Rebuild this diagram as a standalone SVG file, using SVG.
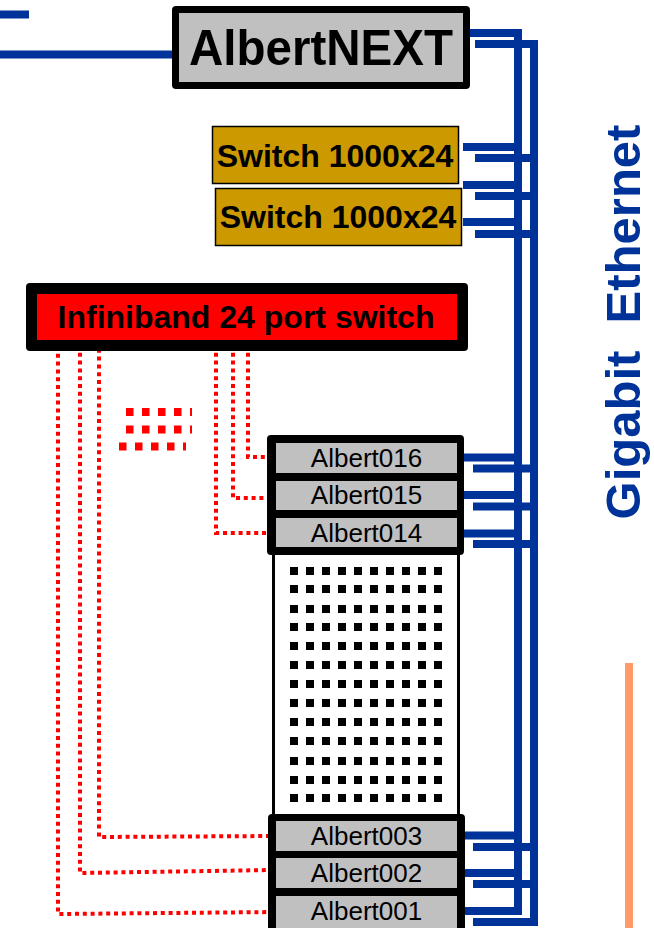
<svg xmlns="http://www.w3.org/2000/svg" width="654" height="928" viewBox="0 0 654 928">
<style>
.eth{stroke:#003399;stroke-width:8;fill:none}
.ib{stroke:#FF0000;stroke-width:4;fill:none;stroke-dasharray:4 3.8}
.slot{fill:#C0C0C0}
.lbl{font-family:"Liberation Sans",Arial,sans-serif;font-size:26px;fill:#000;text-anchor:middle}
.bold{font-family:"Liberation Sans",Arial,sans-serif;font-weight:bold;fill:#000;text-anchor:middle}
.dot{fill:#000}
</style>
<rect width="654" height="928" fill="#fff"/>
<g id="connectors">
  <line class="eth" x1="0" y1="14.5" x2="29" y2="14.5" stroke-width="9"/>
  <line class="eth" x1="0" y1="54.5" x2="179" y2="54.5"/>
  <line class="eth" x1="463" y1="33" x2="522" y2="33"/>
  <line class="eth" x1="475" y1="44" x2="538" y2="44"/>
  <line class="eth" x1="518" y1="29" x2="518" y2="915" stroke-width="7"/>
  <line class="eth" x1="534" y1="40" x2="534" y2="926"/>
  <g>
    <line class="eth" x1="463" y1="147" x2="521" y2="147"/>
    <line class="eth" x1="475" y1="158" x2="538" y2="158"/>
    <line class="eth" x1="463" y1="185" x2="521" y2="185"/>
    <line class="eth" x1="475" y1="196" x2="538" y2="196"/>
    <line class="eth" x1="463" y1="222" x2="521" y2="222"/>
    <line class="eth" x1="475" y1="234" x2="538" y2="234"/>
    <line class="eth" x1="461" y1="457.5" x2="521" y2="457.5"/>
    <line class="eth" x1="473" y1="468.5" x2="538" y2="468.5"/>
    <line class="eth" x1="461" y1="495" x2="521" y2="495"/>
    <line class="eth" x1="473" y1="506.5" x2="538" y2="506.5"/>
    <line class="eth" x1="461" y1="533.5" x2="521" y2="533.5"/>
    <line class="eth" x1="473" y1="544" x2="538" y2="544"/>
    <line class="eth" x1="461" y1="835.5" x2="521" y2="835.5"/>
    <line class="eth" x1="473" y1="847" x2="538" y2="847"/>
    <line class="eth" x1="461" y1="873" x2="521" y2="873"/>
    <line class="eth" x1="473" y1="884" x2="538" y2="884"/>
    <line class="eth" x1="461" y1="911" x2="521" y2="911"/>
    <line class="eth" x1="473" y1="922" x2="538" y2="922"/>
  </g>
  <g>
    <polyline class="ib" points="248,345 248,457 274,457"/>
    <polyline class="ib" points="233,345 233,498 274,498"/>
    <polyline class="ib" points="216,345 216,533 274,533"/>
    <polyline class="ib" points="99,341 99,837 274,836"/>
    <polyline class="ib" points="80,345 80,873 272,870"/>
    <polyline class="ib" points="58,346 58,914 276,912"/>
  </g>
  <g stroke="#FF0000" stroke-width="8" fill="none">
    <line x1="126" y1="412" x2="192" y2="412" stroke-dasharray="7.5 8.5"/>
    <line x1="126" y1="429.5" x2="192" y2="429.5" stroke-dasharray="7.5 8.5"/>
    <line x1="119" y1="446.5" x2="186" y2="446.5" stroke-dasharray="7.5 8.5"/>
  </g>
</g>
<g id="albertnext">
  <rect x="172" y="6" width="298" height="83" rx="4" fill="#000"/>
  <rect x="179" y="13" width="284" height="69" class="slot"/>
  <text x="321" y="65" class="bold" font-size="50" textLength="264" lengthAdjust="spacingAndGlyphs">AlbertNEXT</text>
</g>
<g id="switch1">
  <rect x="212.5" y="126.5" width="246" height="57" fill="#CC9900" stroke="#000" stroke-width="1.5"/>
  <text x="335" y="167" class="bold" font-size="32">Switch 1000x24</text>
</g>
<g id="switch2">
  <rect x="215.5" y="188.5" width="246" height="57" fill="#CC9900" stroke="#000" stroke-width="1.5"/>
  <text x="338" y="228" class="bold" font-size="32">Switch 1000x24</text>
</g>
<g id="infiniband">
  <rect x="26" y="283" width="442" height="68" rx="4" fill="#000"/>
  <rect x="37" y="294" width="420" height="46" fill="#FF0000"/>
  <text x="246" y="328" class="bold" font-size="32">Infiniband 24 port switch</text>
</g>
<g id="rack">
  <rect x="273.5" y="553" width="185" height="264" fill="#fff" stroke="#000" stroke-width="3"/>
  <g class="dot">
    <rect x="290" y="567" width="8" height="8"/><rect x="306" y="567" width="8" height="8"/><rect x="322" y="567" width="8" height="8"/><rect x="338" y="567" width="8" height="8"/><rect x="354" y="567" width="8" height="8"/><rect x="370" y="567" width="8" height="8"/><rect x="386" y="567" width="8" height="8"/><rect x="402" y="567" width="8" height="8"/><rect x="418" y="567" width="8" height="8"/><rect x="434" y="567" width="8" height="8"/>
    <rect x="290" y="585" width="8" height="8"/><rect x="306" y="585" width="8" height="8"/><rect x="322" y="585" width="8" height="8"/><rect x="338" y="585" width="8" height="8"/><rect x="354" y="585" width="8" height="8"/><rect x="370" y="585" width="8" height="8"/><rect x="386" y="585" width="8" height="8"/><rect x="402" y="585" width="8" height="8"/><rect x="418" y="585" width="8" height="8"/><rect x="434" y="585" width="8" height="8"/>
    <rect x="290" y="605" width="8" height="8"/><rect x="306" y="605" width="8" height="8"/><rect x="322" y="605" width="8" height="8"/><rect x="338" y="605" width="8" height="8"/><rect x="354" y="605" width="8" height="8"/><rect x="370" y="605" width="8" height="8"/><rect x="386" y="605" width="8" height="8"/><rect x="402" y="605" width="8" height="8"/><rect x="418" y="605" width="8" height="8"/><rect x="434" y="605" width="8" height="8"/>
    <rect x="290" y="623" width="8" height="8"/><rect x="306" y="623" width="8" height="8"/><rect x="322" y="623" width="8" height="8"/><rect x="338" y="623" width="8" height="8"/><rect x="354" y="623" width="8" height="8"/><rect x="370" y="623" width="8" height="8"/><rect x="386" y="623" width="8" height="8"/><rect x="402" y="623" width="8" height="8"/><rect x="418" y="623" width="8" height="8"/><rect x="434" y="623" width="8" height="8"/>
    <rect x="290" y="642" width="8" height="8"/><rect x="306" y="642" width="8" height="8"/><rect x="322" y="642" width="8" height="8"/><rect x="338" y="642" width="8" height="8"/><rect x="354" y="642" width="8" height="8"/><rect x="370" y="642" width="8" height="8"/><rect x="386" y="642" width="8" height="8"/><rect x="402" y="642" width="8" height="8"/><rect x="418" y="642" width="8" height="8"/><rect x="434" y="642" width="8" height="8"/>
    <rect x="290" y="661" width="8" height="8"/><rect x="306" y="661" width="8" height="8"/><rect x="322" y="661" width="8" height="8"/><rect x="338" y="661" width="8" height="8"/><rect x="354" y="661" width="8" height="8"/><rect x="370" y="661" width="8" height="8"/><rect x="386" y="661" width="8" height="8"/><rect x="402" y="661" width="8" height="8"/><rect x="418" y="661" width="8" height="8"/><rect x="434" y="661" width="8" height="8"/>
    <rect x="290" y="680" width="8" height="8"/><rect x="306" y="680" width="8" height="8"/><rect x="322" y="680" width="8" height="8"/><rect x="338" y="680" width="8" height="8"/><rect x="354" y="680" width="8" height="8"/><rect x="370" y="680" width="8" height="8"/><rect x="386" y="680" width="8" height="8"/><rect x="402" y="680" width="8" height="8"/><rect x="418" y="680" width="8" height="8"/><rect x="434" y="680" width="8" height="8"/>
    <rect x="290" y="699" width="8" height="8"/><rect x="306" y="699" width="8" height="8"/><rect x="322" y="699" width="8" height="8"/><rect x="338" y="699" width="8" height="8"/><rect x="354" y="699" width="8" height="8"/><rect x="370" y="699" width="8" height="8"/><rect x="386" y="699" width="8" height="8"/><rect x="402" y="699" width="8" height="8"/><rect x="418" y="699" width="8" height="8"/><rect x="434" y="699" width="8" height="8"/>
    <rect x="290" y="718" width="8" height="8"/><rect x="306" y="718" width="8" height="8"/><rect x="322" y="718" width="8" height="8"/><rect x="338" y="718" width="8" height="8"/><rect x="354" y="718" width="8" height="8"/><rect x="370" y="718" width="8" height="8"/><rect x="386" y="718" width="8" height="8"/><rect x="402" y="718" width="8" height="8"/><rect x="418" y="718" width="8" height="8"/><rect x="434" y="718" width="8" height="8"/>
    <rect x="290" y="737" width="8" height="8"/><rect x="306" y="737" width="8" height="8"/><rect x="322" y="737" width="8" height="8"/><rect x="338" y="737" width="8" height="8"/><rect x="354" y="737" width="8" height="8"/><rect x="370" y="737" width="8" height="8"/><rect x="386" y="737" width="8" height="8"/><rect x="402" y="737" width="8" height="8"/><rect x="418" y="737" width="8" height="8"/><rect x="434" y="737" width="8" height="8"/>
    <rect x="290" y="757" width="8" height="8"/><rect x="306" y="757" width="8" height="8"/><rect x="322" y="757" width="8" height="8"/><rect x="338" y="757" width="8" height="8"/><rect x="354" y="757" width="8" height="8"/><rect x="370" y="757" width="8" height="8"/><rect x="386" y="757" width="8" height="8"/><rect x="402" y="757" width="8" height="8"/><rect x="418" y="757" width="8" height="8"/><rect x="434" y="757" width="8" height="8"/>
    <rect x="290" y="776" width="8" height="8"/><rect x="306" y="776" width="8" height="8"/><rect x="322" y="776" width="8" height="8"/><rect x="338" y="776" width="8" height="8"/><rect x="354" y="776" width="8" height="8"/><rect x="370" y="776" width="8" height="8"/><rect x="386" y="776" width="8" height="8"/><rect x="402" y="776" width="8" height="8"/><rect x="418" y="776" width="8" height="8"/><rect x="434" y="776" width="8" height="8"/>
    <rect x="290" y="794" width="8" height="8"/><rect x="306" y="794" width="8" height="8"/><rect x="322" y="794" width="8" height="8"/><rect x="338" y="794" width="8" height="8"/><rect x="354" y="794" width="8" height="8"/><rect x="370" y="794" width="8" height="8"/><rect x="386" y="794" width="8" height="8"/><rect x="402" y="794" width="8" height="8"/><rect x="418" y="794" width="8" height="8"/><rect x="434" y="794" width="8" height="8"/>
  </g>
</g>
<g id="upper-nodes">
  <rect x="267" y="435" width="197" height="120" rx="4" fill="#000"/>
  <g id="albert016"><rect x="276" y="443" width="181" height="30" class="slot"/><text x="366.5" y="467" class="lbl">Albert016</text></g>
  <g id="albert015"><rect x="276" y="481" width="181" height="29" class="slot"/><text x="366.5" y="504" class="lbl">Albert015</text></g>
  <g id="albert014"><rect x="276" y="518" width="181" height="29" class="slot"/><text x="366.5" y="542" class="lbl">Albert014</text></g>
</g>
<g id="lower-nodes">
  <rect x="268" y="814" width="197" height="124" rx="4" fill="#000"/>
  <g id="albert003"><rect x="276" y="821" width="181" height="30" class="slot"/><text x="366.5" y="845" class="lbl">Albert003</text></g>
  <g id="albert002"><rect x="276" y="858" width="181" height="30" class="slot"/><text x="366.5" y="882" class="lbl">Albert002</text></g>
  <g id="albert001"><rect x="276" y="896" width="181" height="40" class="slot"/><text x="366.5" y="920" class="lbl">Albert001</text></g>
</g>
<g id="gigabit-label">
  <text transform="translate(640,322) rotate(-90)" font-family="'Liberation Sans',Arial,sans-serif" font-weight="bold" font-size="49" fill="#003399" text-anchor="middle" xml:space="preserve">Gigabit  Ethernet</text>
</g>
<g id="orange-bar">
  <rect x="625" y="663" width="8" height="265" fill="#FF9966"/>
</g>
</svg>
